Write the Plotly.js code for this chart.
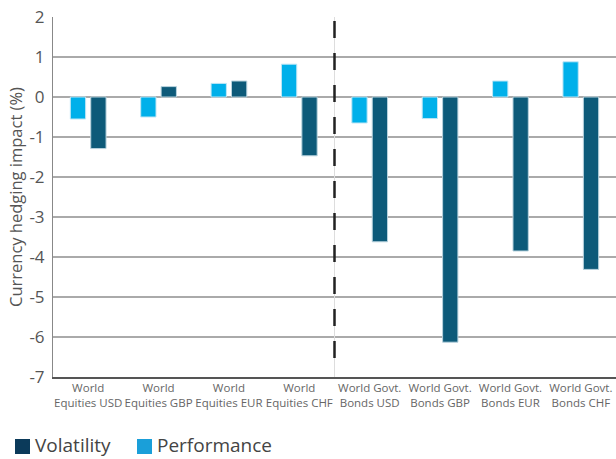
<!DOCTYPE html>
<html><head><meta charset="utf-8">
<script src="https://cdn.plot.ly/plotly-3.0.1.min.js"></script>
<style>body{margin:0;padding:0;background:#fff}#chart{width:616px;height:459px}</style>
</head><body><div id="chart"></div>
<script>
const categories = ["World<br>Equities USD","World<br>Equities GBP","World<br>Equities EUR","World<br>Equities CHF","World Govt.<br>Bonds USD","World Govt.<br>Bonds GBP","World Govt.<br>Bonds EUR","World Govt.<br>Bonds CHF"];
const performance = [-0.55, -0.5, 0.34, 0.82, -0.65, -0.54, 0.4, 0.88];
const volatility = [-1.29, 0.26, 0.4, -1.47, -3.62, -6.13, -3.85, -4.31];
const yTicks = [2,1,0,-1,-2,-3,-4,-5,-6,-7];
const legendNames = ["Volatility", "Performance"];
const legendColors = ["#0b3a5a", "#1a9fd9"];

const traces = [
  {type:'bar', name:'Performance', x:categories, y:performance, marker:{color:'#00b0ea', line:{color:'#bfe6f5', width:1}}},
  {type:'bar', name:'Volatility', x:categories, y:volatility, marker:{color:'#0d5a79', line:{color:'#b9d3de', width:1}}}
];
// legend drawn manually in pixel-like paper coords
const W = 563, H = 360; // plot area size
const px = x => (x - 53) / W;
const py = y => (377 - y) / H;
const legendSq = [[15, 30], [137, 152]];
const legendTextX = [33, 155];
const shapes = [
  {type:'line', xref:'x', yref:'y', x0:3.5, x1:3.5, y0:2, y1:-7, line:{color:'#ddd', width:1}},
  {type:'line', xref:'x', yref:'y', x0:3.5, x1:3.5, y0:1.9, y1:-6.8, line:{color:'#222', width:2.5, dash:'17px,15px'}}
];
const annotations = [];
legendNames.forEach((n, i) => {
  shapes.push({type:'rect', xref:'paper', yref:'paper', x0:px(legendSq[i][0]), x1:px(legendSq[i][1]), y0:py(454), y1:py(439), fillcolor:legendColors[i], line:{width:0}});
  annotations.push({xref:'paper', yref:'paper', x:px(legendTextX[i]), y:py(445), xanchor:'left', yanchor:'middle', showarrow:false, text:n, font:{size:19, color:'#444', family:'Open Sans, sans-serif'}});
});
const layout = {
  width:616, height:459,
  margin:{l:53, r:0, t:17, b:82},
  paper_bgcolor:'#fff', plot_bgcolor:'#fff',
  font:{family:'Open Sans, sans-serif', color:'#555'},
  barmode:'group', bargap:0.42, bargroupgap:0.25,
  showlegend:false,
  xaxis:{type:'category', showgrid:false, showline:true, linecolor:'#555', linewidth:1.5, ticks:'', tickfont:{size:11.5, color:'#666'}, fixedrange:true},
  yaxis:{range:[-7,2], tickvals:yTicks, ticktext:yTicks.map(String), showgrid:true, gridcolor:'#aaa', gridwidth:1.5, zeroline:true, zerolinecolor:'#aaa', zerolinewidth:1.5, showline:true, linecolor:'#888', linewidth:1, ticks:'', tickfont:{size:17, color:'#555'}, ticklabelstandoff:4,
    title:{text:'Currency hedging impact (%)', font:{size:16.5, color:'#555'}, standoff:2}},
  shapes: shapes,
  annotations: annotations
};
Plotly.newPlot('chart', traces, layout, {displayModeBar:false, staticPlot:true});
</script></body></html>
